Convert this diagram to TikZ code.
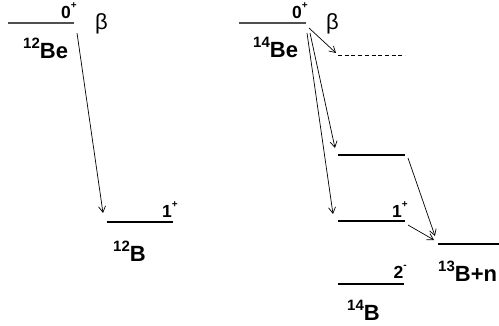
\documentclass[tikz,border=0pt]{standalone}
\usepackage{fontspec}
\setmainfont{Liberation Sans}
\usetikzlibrary{arrows.meta}
\definecolor{gsgray}{RGB}{80,80,80}
\tikzset{
  % levels
  lvl/.style      = {line width=1.2pt, draw=black},
  gslvl/.style    = {line width=1.8pt, draw=gsgray},
  dashlvl/.style  = {line width=1pt, draw=black, dash pattern=on 4pt off 2.7pt},
  % decay arrows
  decay/.style    = {-{Straight Barb[length=6pt,width=7pt]}, line width=0.7pt},
  % labels
  spinlab/.style  = {font=\bfseries\fontsize{17.5}{17.5}\selectfont, inner sep=0pt, anchor=base east},
  nuclab/.style   = {font=\bfseries\fontsize{22}{22}\selectfont, inner sep=0pt, anchor=base west},
  betalab/.style  = {font=\fontsize{22}{22}\selectfont, inner sep=0pt, anchor=base west},
}
\newcommand{\nuc}[2]{\raisebox{10pt}{\fontsize{15}{15}\selectfont #1}#2}
\newcommand{\spinsup}[1]{\raisebox{10pt}{\fontsize{10}{10}\selectfont #1}}

\begin{document}
\begin{tikzpicture}[x=1pt,y=-1pt]
  \useasboundingbox (0,0) rectangle (499,326);
  % 12Be -> 12B
  \coordinate (be12L) at (8,23);
  \coordinate (be12R) at (74,23);
  \coordinate (b12L) at (107,222);
  \coordinate (b12R) at (173,222);
  \draw[gslvl] (be12L) -- (be12R);
  \draw[lvl] (b12L) -- (b12R);
  \node[spinlab] (be12spin) at (77,19) {0\spinsup{+}};
  \node[betalab] (beta12) at (95,30) {β};
  \node[nuclab] (be12lab) at (23,59) {\nuc{12}{Be}};
  \node[spinlab] (b12spin) at (178,218) {1\spinsup{+}};
  \node[nuclab] (b12lab) at (113,262) {\nuc{12}{B}};
  \coordinate (be12src) at (77,33);
  \coordinate (b12dst) at (103,213);
  \draw[decay] (be12src) -- (b12dst);
  % 14Be -> 14B, 13B+n
  \coordinate (be14L) at (239,23);
  \coordinate (be14R) at (306,23);
  \draw[gslvl] (be14L) -- (be14R);
  \coordinate (exdL) at (338,56);
  \coordinate (exdR) at (405,56);
  \draw[dashlvl] (exdL) -- (exdR);
  \coordinate (exaL) at (338,155);
  \coordinate (exaR) at (405,155);
  \draw[lvl] (exaL) -- (exaR);
  \coordinate (exbL) at (338,221);
  \coordinate (exbR) at (405,221);
  \draw[lvl] (exbL) -- (exbR);
  \coordinate (gsL) at (338,284);
  \coordinate (gsR) at (404,284);
  \draw[lvl] (gsL) -- (gsR);
  \coordinate (nL) at (438,244);
  \coordinate (nR) at (499,244);
  \draw[lvl] (nL) -- (nR);
  \node[spinlab] (be14spin) at (308,19) {0\spinsup{+}};
  \node[betalab] (beta14) at (326,30) {β};
  \node[nuclab] (be14lab) at (253,58) {\nuc{14}{Be}};
  \node[spinlab] (exbspin) at (408,218) {1\spinsup{+}};
  \node[spinlab] (gsspin) at (407,279) {2\spinsup{-}};
  \node[nuclab] (b14lab) at (347,321) {\nuc{14}{B}};
  \node[nuclab] (nlab) at (438,282) {\nuc{13}{B+n}};
  % arrows
  \coordinate (src1) at (309,28);
  \coordinate (dst1) at (336,53);
  \coordinate (src2) at (310,33);
  \coordinate (dst2) at (335,148);
  \coordinate (src3) at (307,33);
  \coordinate (dst3) at (333,214);
  \coordinate (src4) at (408,158);
  \coordinate (dst4) at (435,236);
  \coordinate (src5) at (408,225);
  \coordinate (dst5) at (434,240);
  \draw[decay] (src1) -- (dst1);
  \draw[decay] (src2) -- (dst2);
  \draw[decay] (src3) -- (dst3);
  \draw[decay] (src4) -- (dst4);
  \draw[decay] (src5) -- (dst5);
\end{tikzpicture}
\end{document}
